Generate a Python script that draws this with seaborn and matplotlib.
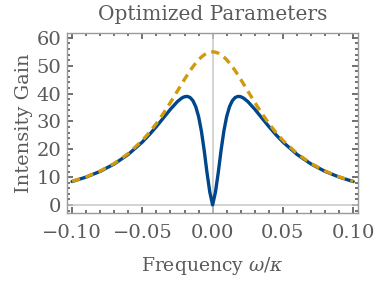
import numpy as np
import pandas as pd
import seaborn as sns
from matplotlib import pyplot as plt
from matplotlib.ticker import MultipleLocator

# values
freq = [-0.100, -0.090, -0.080, -0.070, -0.060, -0.050, -0.045, -0.040, -0.035,
        -0.030, -0.025, -0.022, -0.020, -0.018, -0.016, -0.014, -0.012, -0.010,
        -0.008, -0.006, -0.004, -0.002, 0.000, 0.002, 0.004, 0.006, 0.008,
        0.010, 0.012, 0.014, 0.016, 0.018, 0.020, 0.022, 0.025, 0.030, 0.035,
        0.040, 0.045, 0.050, 0.060, 0.070, 0.080, 0.090, 0.100]
gain_opt = [8.43, 10.02, 12.07, 14.72, 18.17, 22.61, 25.26, 28.16, 31.26,
            34.38, 37.16, 38.38, 38.88, 39.00, 38.58, 37.44, 35.29, 31.79,
            26.57, 19.60, 11.60, 4.60, 0.00, 4.60, 11.60, 19.60, 26.57,
            31.79, 35.29, 37.44, 38.58, 39.00, 38.88, 38.38, 37.16, 34.38, 31.26,
            28.16, 25.26, 22.61, 18.17, 14.72, 12.07, 10.02, 8.43]
gain_ref = [8.48, 10.10, 12.19, 14.91, 18.49, 23.19, 26.06, 29.29, 32.89,
            36.82, 40.96, 43.46, 45.10, 46.70, 48.23, 49.66, 50.97, 52.14,
            53.13, 53.93, 54.52, 54.88, 55.00, 54.88, 54.52, 53.93, 53.13,
            52.14, 50.97, 49.66, 48.23, 46.70, 45.10, 43.46, 40.96, 36.82, 32.89,
            29.29, 26.06, 23.19, 18.49, 14.91, 12.19, 10.10, 8.48]
xticks = [-0.10, -0.05, 0.00, 0.05, 0.10]
xticklabels = ['\u22120.10', '\u22120.05', '0.00', '0.05', '0.10']
yticks = [0, 10, 20, 30, 40, 50, 60]

df = pd.DataFrame({'freq': freq, 'opt': gain_opt, 'ref': gain_ref})

sns.set_theme(style='ticks')
plt.rcParams['font.family'] = ['DejaVu Serif']
plt.rcParams['mathtext.fontset'] = 'dejavuserif'
txt = '#5a5a5a'

fig = plt.figure(figsize=(3.75, 2.86), dpi=100)
ax = fig.add_axes([0.179, 0.255, 0.776, 0.63])

ax.axvline(0, color='#c8c8c8', lw=1.1, zorder=1)
ax.axhline(0, color='#c8c8c8', lw=1.1, zorder=1)

sns.lineplot(data=df, x='freq', y='opt', ax=ax, color='#00468b', lw=2.4,
             estimator=None, sort=False, zorder=3)
ax.lines[-1].set_solid_joinstyle('round')
sns.lineplot(data=df, x='freq', y='ref', ax=ax, color='#d09a0c', lw=2.4,
             estimator=None, sort=False, zorder=4)
ax.lines[-1].set_dashes((2.5, 1.7))

ax.set_xlim(-0.1035, 0.1035)
ax.set_ylim(-2.9, 61.8)
ax.set_xticks(xticks)
ax.set_xticklabels(xticklabels)
ax.set_yticks(yticks)
ax.xaxis.set_minor_locator(MultipleLocator(0.01))
ax.yaxis.set_minor_locator(MultipleLocator(2))

ax.tick_params(which='both', direction='in', top=True, right=True,
               color='#666666', labelcolor=txt, labelsize=14)
ax.tick_params(which='major', length=4.5, width=1.3)
ax.tick_params(which='minor', length=2.5, width=1.3)
ax.tick_params(axis='x', pad=8)
ax.tick_params(axis='y', pad=4)
for s in ax.spines.values():
    s.set_color('#9a9a9a')
    s.set_linewidth(1.0)

ax.set_title('Optimized Parameters', color=txt, fontsize=14.5, pad=9)
ax.set_xlabel('Frequency $\\omega/\\kappa$', color=txt, fontsize=13.5, labelpad=9)
ax.set_ylabel('Intensity Gain', color=txt, fontsize=14, labelpad=3)

fig.savefig('out.png', dpi=100)
